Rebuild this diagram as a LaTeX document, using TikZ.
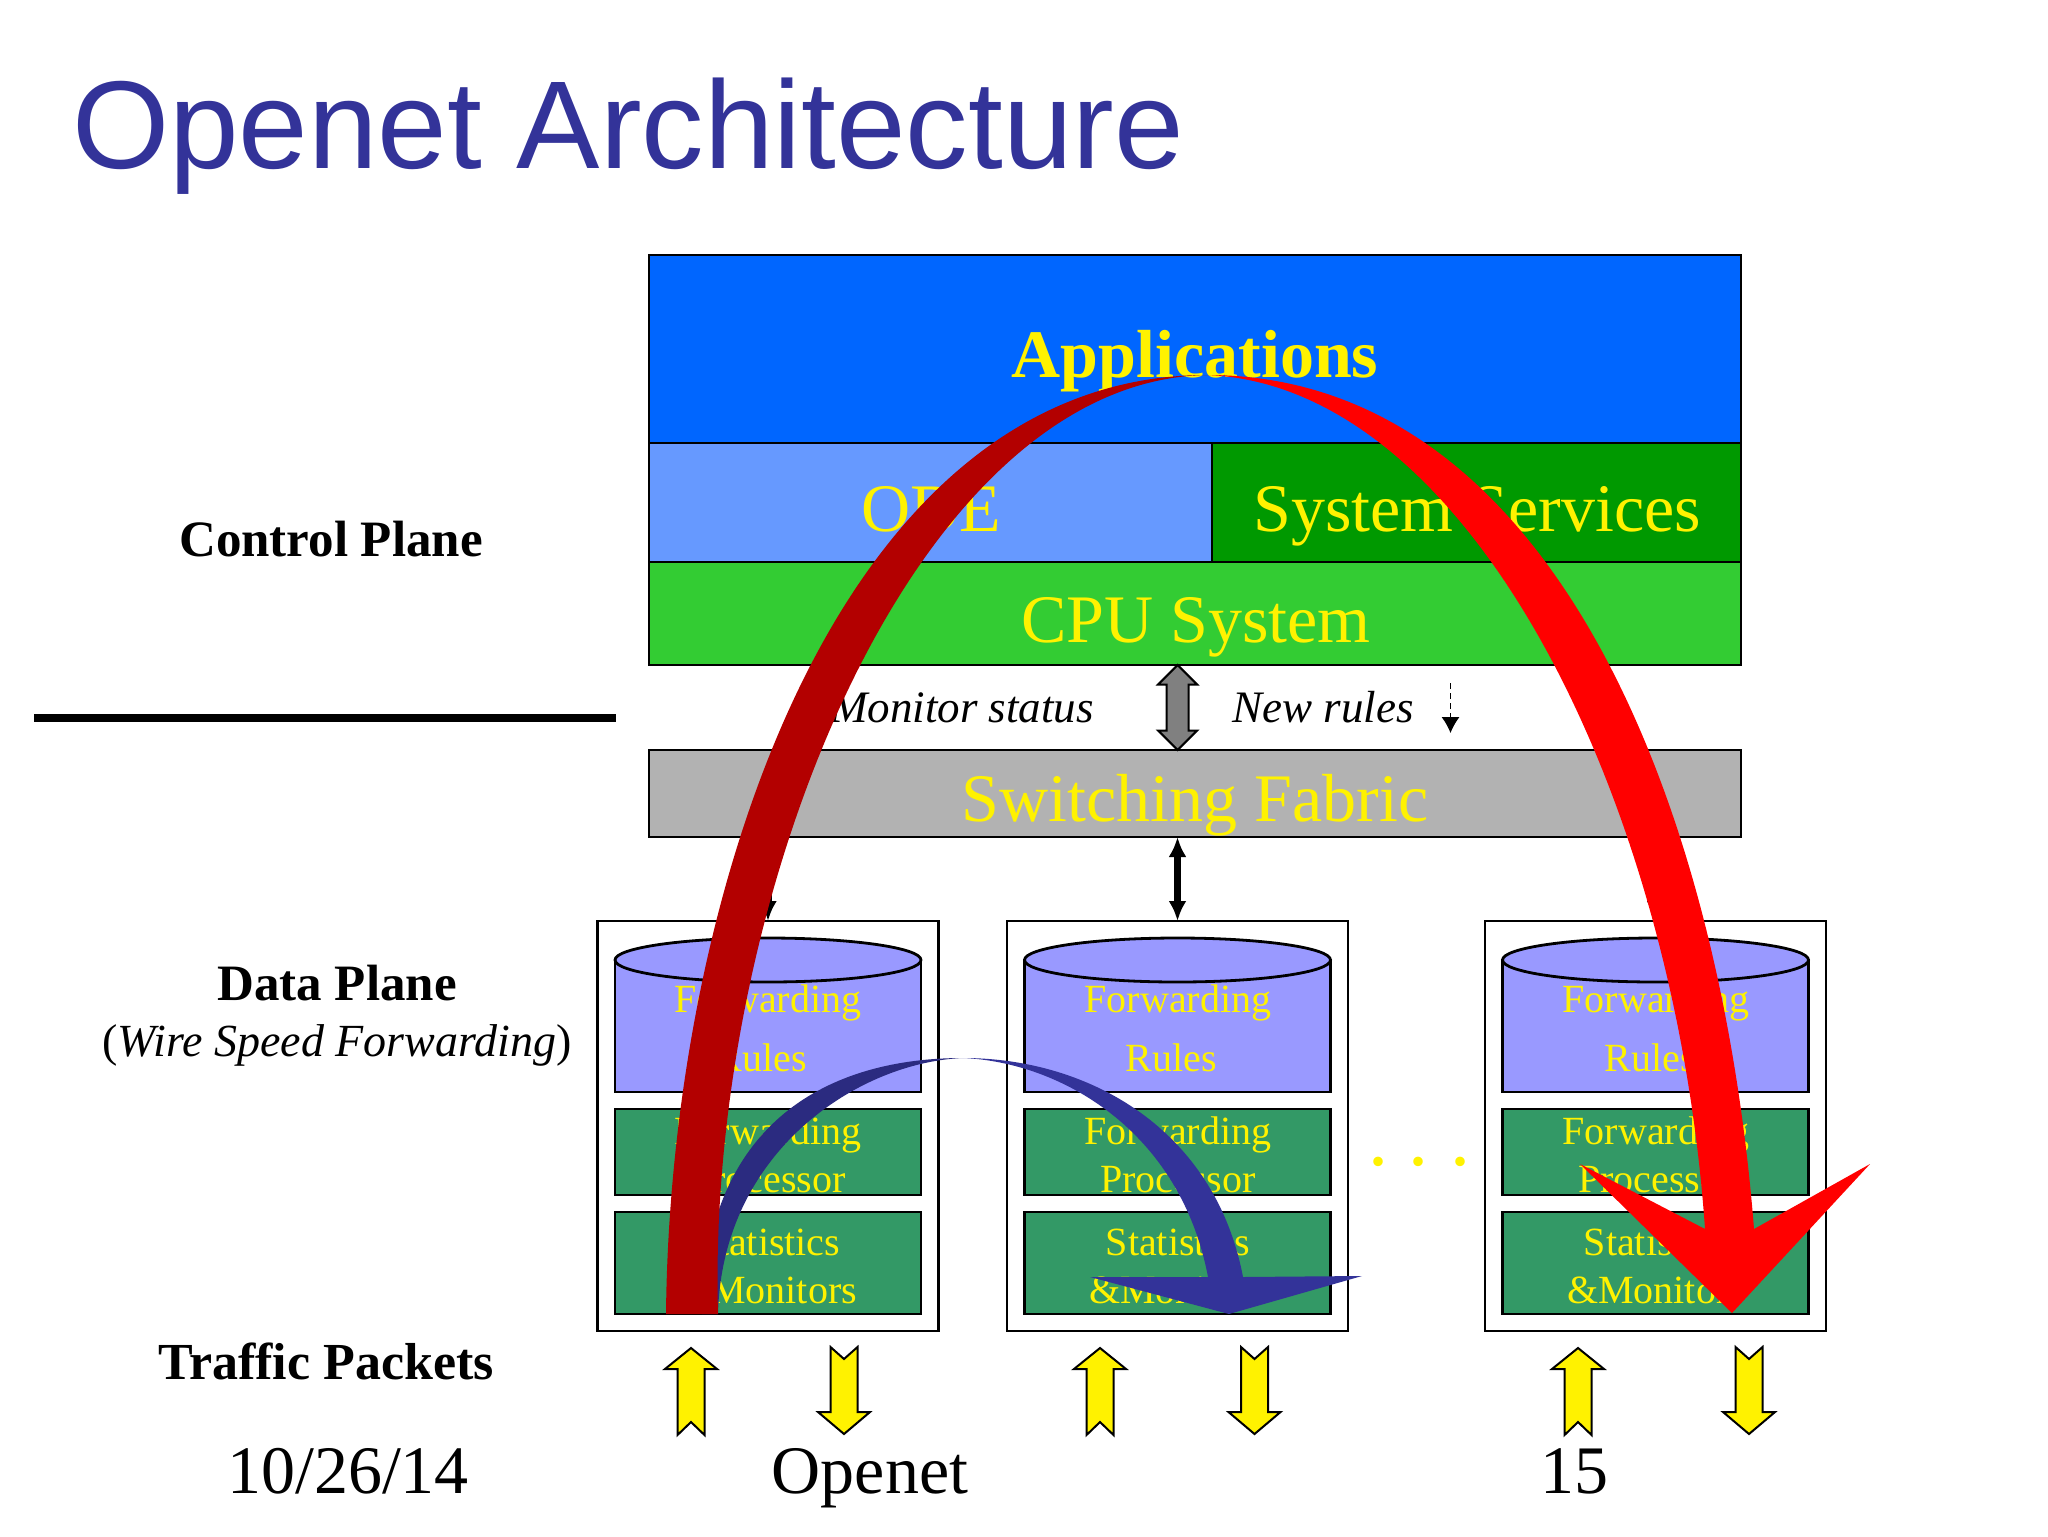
\documentclass[tikz,border=0pt]{standalone}
\usepackage{fontspec}
\setmainfont{Liberation Serif}
\newfontfamily\titlefont{Liberation Sans}
\usetikzlibrary{arrows.meta, positioning, shapes.geometric, shapes.arrows}
\definecolor{titleblue}{HTML}{333399}
\definecolor{appblue}{HTML}{0066FF}
\definecolor{odeblue}{HTML}{6699FF}
\definecolor{sysgreen}{HTML}{009900}
\definecolor{cpugreen}{HTML}{33CC33}
\definecolor{fabricgray}{HTML}{B2B2B2}
\definecolor{rulesblue}{HTML}{9999FF}
\definecolor{cellgreen}{HTML}{339966}
\definecolor{archdark}{HTML}{B30000}
\definecolor{archdarkblue}{HTML}{2B2B80}
\tikzset{%
	layer/.style={draw, rectangle, line width=1.4pt, outer sep=0pt, inner sep=0pt},
	frame/.style={layer, minimum width=170.5pt, minimum height=205pt, fill=white},
	rulesbody/.style={layer, minimum width=153pt, minimum height=66pt, fill=rulesblue},
	rulestop/.style={draw, ellipse, line width=1.4pt, inner sep=0pt, outer sep=0pt,%
		minimum width=153pt, minimum height=22pt, fill=rulesblue},
	proc/.style={layer, minimum width=153pt, minimum height=43pt, fill=cellgreen},
	stat/.style={layer, minimum width=153pt, minimum height=51pt, fill=cellgreen},
	big/.style={anchor=base, text=yellow, inner sep=0pt, font=\fontsize{34}{40}\selectfont},
	cell/.style={anchor=base, text=yellow, inner sep=0pt, font=\fontsize{20}{24}\selectfont},
	side/.style={anchor=base, inner sep=0pt, font=\fontsize{25.5}{30}\selectfont\bfseries},
	note/.style={anchor=base, inner sep=0pt, font=\fontsize{22.5}{26}\selectfont\itshape},
	foot/.style={anchor=base, inner sep=0pt, font=\fontsize{34}{40}\selectfont},
	link/.style={-{Latex[length=10pt,width=9pt]}, line width=3.5pt},
	trafficup/.pic={\draw[fill=yellow, line width=1pt] (0,0) -- (26,21) -- (13.5,21) -- (13.5,87)
		-- (0,74) -- (-13.5,87) -- (-13.5,21) -- (-26,21) -- cycle;},
	trafficdown/.pic={\draw[fill=yellow, line width=1pt] (0,87) -- (26,65) -- (13.5,65) -- (13.5,0)
		-- (0,12) -- (-13.5,0) -- (-13.5,65) -- (-26,65) -- cycle;}
}
\begin{document}
\begin{tikzpicture}[x=0.5pt, y=-0.5pt]
	\useasboundingbox (0,0) rectangle (2048,1536);

	\node[anchor=base, inner sep=0pt, text=titleblue, font=\titlefont\fontsize{62.5}{70}\selectfont] (title) at (628,168) {Openet Architecture};

	% control plane
	\node[layer, minimum width=546pt, minimum height=94pt, fill=appblue] (apps) at (1195,349) {};
	\node[layer, minimum width=281.5pt, minimum height=59.5pt, fill=odeblue, below right=0pt and 0pt of apps.south west] (ode) {};
	\node[layer, minimum width=264.5pt, minimum height=59.5pt, fill=sysgreen, right=0pt of ode] (sys) {};
	\node[layer, minimum width=546pt, minimum height=51.5pt, fill=cpugreen, below right=0pt and 0pt of ode.south west] (cpu) {};
	\node[layer, minimum width=546pt, minimum height=43.5pt, fill=fabricgray, below=42.5pt of cpu] (fabric) {};

	\node[big, font=\fontsize{34}{40}\selectfont\bfseries] (appsText) at (1195,377) {Applications};
	\node[big] (odeText) at (931,531) {ODE};
	\node[big] (sysText) at (1477,531) {System Services};
	\node[big] (cpuText) at (1196,642) {CPU System};
	\node[big] (fabricText) at (1195,821) {Switching Fabric};

	\node[note] (monitorText) at (962,722) {Monitor status};
	\node[note] (newText) at (1323,722) {New rules};
	\node[draw, fill=gray, double arrow, rotate=90, inner xsep=0pt, inner ysep=5pt, outer sep=0pt, line width=1pt,%
		minimum height=42.5pt, double arrow head extend=4.25pt] (gate) at (1177.6,707.5) {};
	\coordinate (newTop) at (1450.5,683);
	\coordinate (newEnd) at (1450.5,733);
	\draw[densely dashed, line width=0.5pt, -{Latex[length=8pt,width=9pt]}] (newTop) -- (newEnd);

	\node[side] (controlText) at (331,556) {Control Plane};
	\coordinate (planeL) at (34,718);
	\coordinate (planeR) at (616,718);
	\draw[line width=4pt] (planeL) -- (planeR);
	\node[side] (dataText) at (337,1000) {Data Plane};
	\node[anchor=base, inner sep=0pt, font=\fontsize{23}{28}\selectfont] (wireText) at (337,1056) {(\textit{Wire Speed Forwarding})};
	\node[side, font=\fontsize{26}{30}\selectfont\bfseries] (trafficText) at (326,1379) {Traffic Packets};

	% data plane, first card
	\node[frame] (frameA) at (768,1126) {};
	\node[rulesbody, below=19.5pt of frameA.north] (rulesA) {};
	\node[rulestop] (topA) at (rulesA.north) {};
	\node[proc, below=8.5pt of rulesA] (procA) {};
	\node[stat, below=8.5pt of procA] (statA) {};
	\node[cell] (fwdA) at (768,1012) {Forwarding};
	\node[cell] (rulA) at (761,1071) {Rules};
	\node[cell] (pfwdA) at (768,1144) {Forwarding};
	\node[cell] (pcsA) at (768,1192) {Processor};
	\node[cell] (stsA) at (768,1255) {Statistics};
	\node[cell] (monA) at (768,1303) {\&Monitors};

	% second card
	\node[frame] (frameB) at (1177.5,1126) {};
	\node[rulesbody, below=19.5pt of frameB.north] (rulesB) {};
	\node[rulestop] (topB) at (rulesB.north) {};
	\node[proc, below=8.5pt of rulesB] (procB) {};
	\node[stat, below=8.5pt of procB] (statB) {};
	\node[cell] (fwdB) at (1178,1012) {Forwarding};
	\node[cell] (rulB) at (1171,1071) {Rules};
	\node[cell] (pfwdB) at (1178,1144) {Forwarding};
	\node[cell] (pcsB) at (1178,1192) {Processor};
	\node[cell] (stsB) at (1178,1255) {Statistics};
	\node[cell] (monB) at (1178,1303) {\&Monitors};

	% third card
	\node[frame] (frameC) at (1655.5,1126) {};
	\node[rulesbody, below=19.5pt of frameC.north] (rulesC) {};
	\node[rulestop] (topC) at (rulesC.north) {};
	\node[proc, below=8.5pt of rulesC] (procC) {};
	\node[stat, below=8.5pt of procC] (statC) {};
	\node[cell] (fwdC) at (1656,1012) {Forwarding};
	\node[cell] (rulC) at (1650,1071) {Rules};
	\node[cell] (pfwdC) at (1656,1144) {Forwarding};
	\node[cell] (pcsC) at (1656,1192) {Processor};
	\node[cell] (stsC) at (1656,1255) {Statistics};
	\node[cell] (monC) at (1656,1303) {\&Monitors};

	\node[cell, font=\fontsize{40}{44}\selectfont] (dotsText) at (1419,1165) {.\hspace{10.5pt}.\hspace{10.5pt}.};

	\draw[link] (fabric.south -| frameA.north) -- (frameA.north);
	\draw[link, {Latex[length=10pt,width=9pt]}-{Latex[length=10pt,width=9pt]}] (fabric.south -| frameB.north) -- (frameB.north);
	\draw[link] (fabric.south -| frameC.north) -- (frameC.north);

	\pic at (691,1348) {trafficup};
	\pic at (844,1347) {trafficdown};
	\pic at (1100,1348) {trafficup};
	\pic at (1254.5,1347) {trafficdown};
	\pic at (1578,1348) {trafficup};
	\pic at (1749,1347) {trafficdown};

	\node[foot] (dateText) at (348,1493) {10/26/14};
	\node[foot] (openetText) at (870,1493) {Openet};
	\node[foot] (pageText) at (1574,1493) {15};

	% the two sweeps
	\fill[archdarkblue] (702,1314) .. controls (705,1130) and (820,1058) .. (963,1058)
		.. controls (860,1062) and (722,1150) .. (718,1314) -- cycle;
	\fill[titleblue] (963,1058) .. controls (1090,1058) and (1215,1130) .. (1243,1277)
		-- (1362,1276) -- (1229,1314) -- (1090,1277) -- (1208,1277)
		.. controls (1180,1130) and (1060,1062) .. (963,1058) -- cycle;

	\fill[archdark] (666,1314) .. controls (670,900) and (835,375) .. (1207,375)
		.. controls (912,380) and (706,900) .. (718,1314) -- cycle;
	\fill[red] (1207,375) .. controls (1550,375) and (1720,800) .. (1754,1229)
		-- (1870,1164) -- (1732,1313) -- (1580,1164) -- (1705,1229)
		.. controls (1675,800) and (1470,385) .. (1207,375) -- cycle;
\end{tikzpicture}
\end{document}
